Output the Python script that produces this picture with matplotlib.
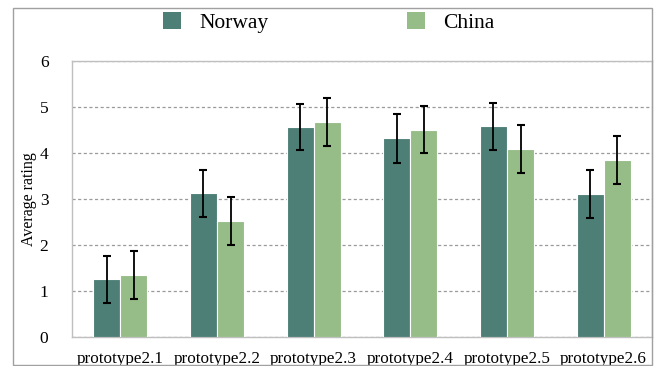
import matplotlib
matplotlib.use("Agg")
import matplotlib.pyplot as plt
import numpy as np
from matplotlib.patches import Patch, Rectangle

categories = ["prototype2.1", "prototype2.2", "prototype2.3",
              "prototype2.4", "prototype2.5", "prototype2.6"]
norway = [1.26, 3.12, 4.57, 4.32, 4.58, 3.10]
norway_err = [0.51, 0.51, 0.50, 0.53, 0.51, 0.52]
china = [1.34, 2.53, 4.67, 4.51, 4.08, 3.85]
china_err = [0.52, 0.52, 0.52, 0.52, 0.52, 0.52]
series_names = ["Norway", "China"]
yticks = [0, 1, 2, 3, 4, 5, 6]

c_nor = "#4d7f77"
c_chi = "#96bd88"

plt.rcParams["font.family"] = ["Liberation Serif", "DejaVu Serif"]

fig = plt.figure(figsize=(6.55, 3.66), dpi=100)
ax = fig.add_axes([72/655, 29/366, 580/655, 276/366])

x = np.arange(len(categories))
w = 0.28
ekw = dict(ecolor="black", elinewidth=1.3, capsize=3.2, capthick=1.5)
ax.bar(x - w/2, norway, w, color=c_nor, edgecolor="white", linewidth=0.8,
       yerr=norway_err, error_kw=ekw, zorder=3)
ax.bar(x + w/2, china, w, color=c_chi, edgecolor="white", linewidth=0.8,
       yerr=china_err, error_kw=ekw, zorder=3)

ax.set_xlim(-0.5, len(categories) - 0.5)
ax.set_ylim(0, 6)
ax.set_yticks(yticks)
ax.set_xticks(x)
ax.set_xticklabels(categories, fontsize=12.3)
ax.tick_params(axis="y", length=0, pad=17, labelsize=12.5)
ax.tick_params(axis="x", length=0, pad=10)
ax.set_ylabel("Average rating", fontsize=11.5, labelpad=2)

ax.yaxis.grid(True, linestyle=(0, (2.5, 2)), color="#9a9a9a", linewidth=0.9, zorder=0)
ax.set_axisbelow(True)
for s in ax.spines.values():
    s.set_color("#bfbfbf")
    s.set_linewidth(1.0)

# outer frame
fig.patches.append(Rectangle((13/655, 1/366), 639/655, 357/366,
                             transform=fig.transFigure, fill=False,
                             edgecolor="#a0a0a0", linewidth=1.0))

handles = [Patch(facecolor=c_nor, edgecolor="none"),
           Patch(facecolor=c_chi, edgecolor="none")]
fig.legend(handles, series_names, loc="center", bbox_to_anchor=(0.502, 0.938),
           ncol=2, frameon=False, fontsize=15.5, handlelength=0.84,
           handleheight=0.84, handletextpad=0.85, columnspacing=6.4)

fig.savefig("out.png", dpi=100)
